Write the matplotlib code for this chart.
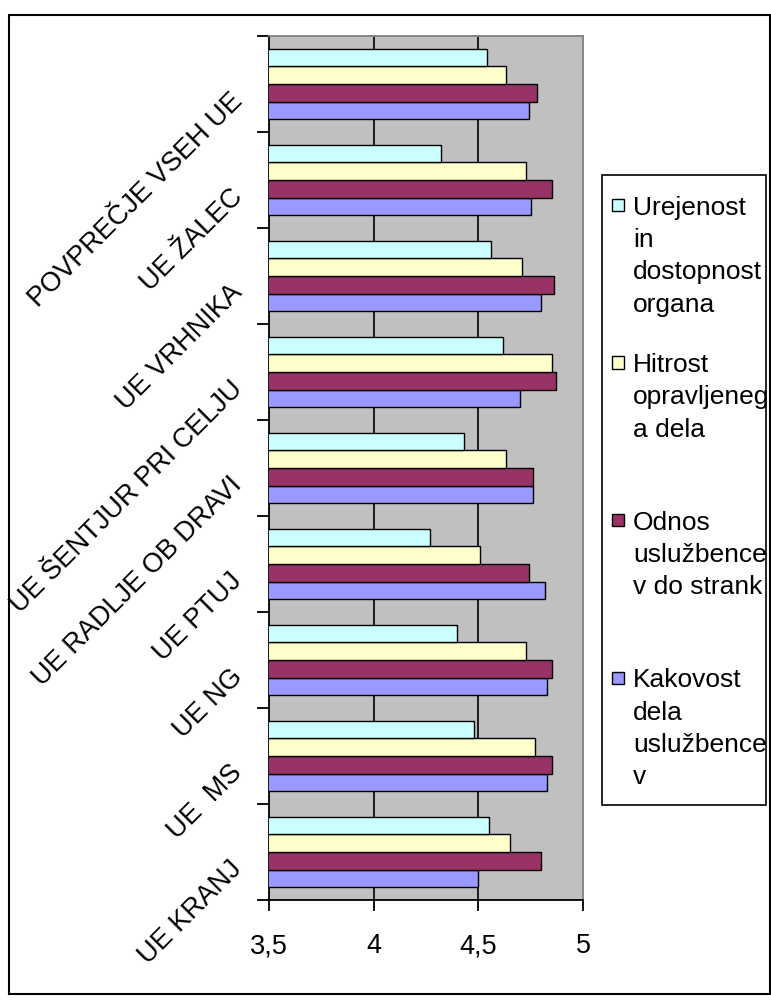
import matplotlib
matplotlib.use("Agg")
import matplotlib.pyplot as plt
import matplotlib.transforms as mtransforms
from matplotlib.patches import Rectangle
import numpy as np

plt.rcParams['font.family'] = ['Liberation Sans', 'DejaVu Sans']

# upravne enote, od spodaj navzgor
enote = ['UE KRANJ', 'UE  MS', 'UE NG', 'UE PTUJ', 'UE RADLJE OB DRAVI',
         'UE ŠENTJUR PRI CELJU', 'UE VRHNIKA', 'UE ŽALEC', 'POVPREČJE VSEH UE']

kakovost = [4.50, 4.83, 4.83, 4.82, 4.76, 4.70, 4.80, 4.75, 4.74]
odnos = [4.80, 4.85, 4.85, 4.74, 4.76, 4.87, 4.86, 4.85, 4.78]
hitrost = [4.65, 4.77, 4.73, 4.51, 4.63, 4.85, 4.71, 4.73, 4.63]
urejenost = [4.55, 4.48, 4.40, 4.27, 4.43, 4.62, 4.56, 4.32, 4.54]

imena = ['Kakovost\ndela\nuslužbence\nv',
         'Odnos\nuslužbence\nv do strank',
         'Hitrost\nopravljeneg\na dela',
         'Urejenost\nin\ndostopnost\norgana']
barve = ['#9999FF', '#993366', '#FFFFCC', '#CCFFFF']

xticks = [3.5, 4, 4.5, 5]
xlabels = ['3,5', '4', '4,5', '5']

W, H = 771, 1001
fig = plt.figure(figsize=(W / 100, H / 100), dpi=100)


def fx(px):
    return px / W


def fy(py):
    return 1 - py / H


ax = fig.add_axes([fx(269), fy(900), fx(583) - fx(269), fy(36) - fy(900)])
ax.set_facecolor('#C0C0C0')

y = np.arange(len(enote))
h = 0.184
serije = [kakovost, odnos, hitrost, urejenost]
for k, (vals, c) in enumerate(zip(serije, barve)):
    ax.barh(y + (k - 1.5) * h, vals, height=h, color=c,
            edgecolor='black', linewidth=1.0, zorder=3)

ax.set_xlim(3.5, 5)
ax.set_ylim(-0.5, len(enote) - 0.5)
for g in xticks[1:-1]:
    ax.axvline(g, color='black', lw=1.2, zorder=1)

ax.set_xticks(xticks)
ax.set_xticklabels(xlabels, fontsize=19.5)
ax.tick_params(axis='x', length=8, width=1.3, pad=16, direction='out')

ax.set_yticks(np.arange(len(enote) + 1) - 0.5)
ax.set_yticklabels([])
ax.tick_params(axis='y', which='major', length=9, width=1.3, direction='out')
ax.set_yticks(y, minor=True)
ax.set_yticklabels(enote, minor=True, fontsize=19.5, rotation=45,
                   ha='right', va='center', rotation_mode='anchor')
ax.tick_params(axis='y', which='minor', length=0, pad=22)
premik = mtransforms.ScaledTranslation(0, -0.13, fig.dpi_scale_trans)
for lab in ax.get_yticklabels(minor=True):
    lab.set_transform(lab.get_transform() + premik)

for s in ['left', 'bottom']:
    ax.spines[s].set_linewidth(1.3)
    ax.spines[s].set_color('black')
for s in ['top', 'right']:
    ax.spines[s].set_linewidth(1.3)
    ax.spines[s].set_color('#808080')

# okvir celotnega grafa
fig.patches.append(Rectangle((fx(9), fy(994)), fx(770) - fx(9), fy(15) - fy(994),
                             transform=fig.transFigure, fill=False,
                             edgecolor='black', linewidth=1.5))

# legenda
fig.patches.append(Rectangle((fx(602), fy(805)), fx(766) - fx(602), fy(175) - fy(805),
                             transform=fig.transFigure, facecolor='white',
                             edgecolor='black', linewidth=1.2))
for k, (ime, c) in enumerate(zip(imena[::-1], barve[::-1])):
    yc = 205 + k * 157.5
    fig.patches.append(Rectangle((fx(612), fy(yc + 6)), fx(12), 12 / H,
                                 transform=fig.transFigure, facecolor=c,
                                 edgecolor='black', linewidth=1.0))
    for j, vrstica in enumerate(ime.split('\n')):
        fig.text(fx(633), fy(yc + 9.5 + j * 32.5), vrstica, fontsize=19,
                 va='baseline', ha='left')

fig.savefig('out.png', dpi=100)
